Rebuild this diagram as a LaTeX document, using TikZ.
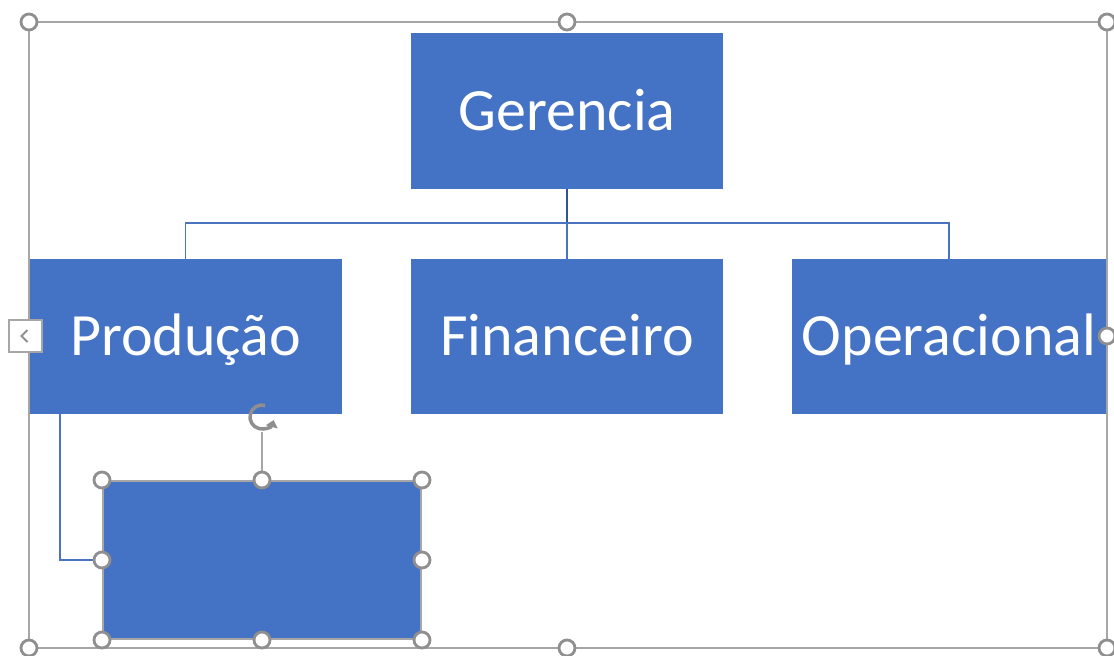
\documentclass[tikz,border=0pt]{standalone}
\usepackage{fontspec}
\setmainfont{Carlito}
\usetikzlibrary{arrows.meta,positioning,calc}

\definecolor{boxblue}{HTML}{4472C4}
\definecolor{linkblue}{HTML}{4A74C0}
\definecolor{stemblue}{HTML}{2F5597}
\definecolor{selgray}{HTML}{A6A6A6}
\definecolor{handlegray}{HTML}{8F8F8F}

\tikzset{
  orgbox/.style={rectangle,fill=boxblue,text=white,inner sep=0pt,
    minimum width=312pt,minimum height=156pt,
    text height=38.6pt,text depth=0pt,font=\fontsize{60}{72}\selectfont},
  link/.style={linkblue,line width=1.5pt},
  handle/.style={circle,draw=handlegray,fill=white,line width=2.8pt,
    minimum size=16pt,inner sep=0pt},
  frameline/.style={selgray,line width=2pt}
}

\begin{document}
\begin{tikzpicture}[x=1pt,y=-1pt]
    \useasboundingbox (0,0) rectangle (1114,656);
    % top of the chart
    \node[orgbox] (ger) at (567,111) {Gerencia};
    % second row
    \node[orgbox,minimum width=313pt,minimum height=155pt] (prod) at (185.5,336.5) {Produção};
    \node[orgbox,minimum height=155pt] (fin) at (567,336.5) {Financeiro};
    \node[orgbox,minimum width=314pt,minimum height=155pt] (oper) at (949,336.5) {Operacional};
    % new empty box under Produção (selected)
    \node[orgbox,minimum width=318pt,minimum height=158pt,draw=selgray,line width=2pt] (novo) at (262,560) {};
    % connectors
    \coordinate (bus) at (567,223);
    \draw[stemblue,line width=2.5pt] (ger.south) -- (bus);
    \draw[link] (prod.north) |- (bus) -| (oper.north);
    \draw[link] (bus) -- (fin.north);
    \draw[link] ($(prod.south west)+(31,0)$) |- (novo.west);
    % selection frame of the whole chart
    \draw[frameline] (29,22) rectangle (1107,648);
    \node[rectangle,draw=selgray,fill=white,line width=1.5pt,minimum width=33pt,
      minimum height=32pt,inner sep=0pt] (tab) at (25.5,336) {};
    \draw[handlegray,line width=2pt] ($(tab.center)+(2,-6)$) -- ($(tab.center)+(-4,0)$)
      -- ($(tab.center)+(2,6)$);
    \foreach \p [count=\i] in {(29,22),(567,22),(1107,22),(1107,336),
      (29,648),(567,648),(1107,648)}
      \node[handle] (fh\i) at \p {};
    % handles of the new box
    \coordinate (rot) at (262,417);
    \draw[selgray,line width=1.5pt] (novo.north) -- ($(rot)+(0,15)$);
    \draw[handlegray,line width=3.5pt,-{Triangle[length=7pt,width=12pt]}]
      ($(rot)+(-75:12)$) arc[start angle=-75,end angle=-345,radius=12];
    \foreach \a [count=\i] in {north west,north,north east,west,east,
      south west,south,south east}
      \node[handle] (bh\i) at (novo.\a) {};
\end{tikzpicture}
\end{document}
